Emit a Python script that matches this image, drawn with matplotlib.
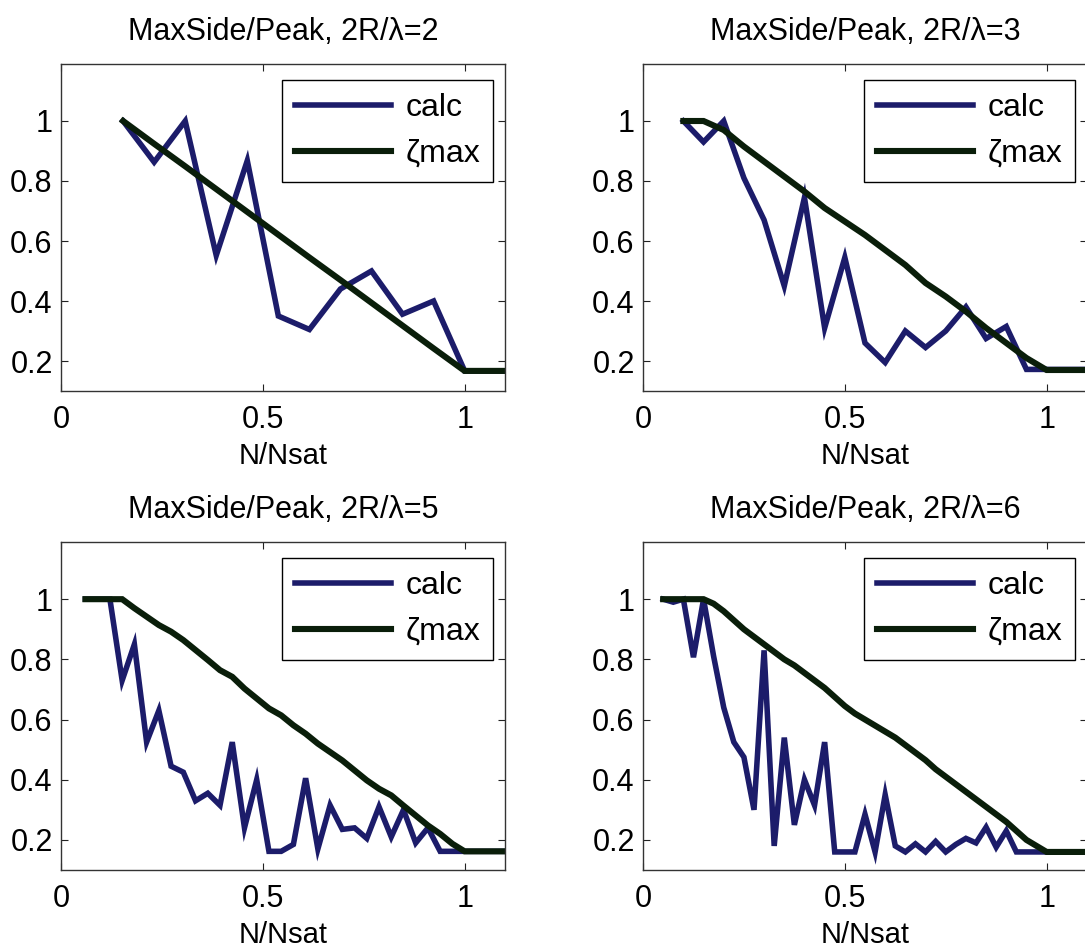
import numpy as np
import matplotlib
matplotlib.use('Agg')
import matplotlib.pyplot as plt

plt.rcParams['font.family'] = ['Liberation Sans', 'DejaVu Sans']

# ratio 2R/lambda for each panel, saturation count Nsat, and sample counts N
ratios = [2, 3, 5, 6]
n_sat = [13, 20, 33, 40]
n_first = [2, 2, 2, 2]

# values, one per N starting at N=2
calc_2 = [1.0, 0.863, 1.0, 0.552, 0.868, 0.35, 0.305, 0.44, 0.5, 0.356, 0.4, 0.167,
          0.167, 0.167]
zeta_2 = [1.0, 0.924, 0.849, 0.773, 0.697, 0.621, 0.545, 0.470, 0.394, 0.318, 0.242,
          0.167, 0.167, 0.167]

calc_3 = [1.0, 0.93, 1.0, 0.81, 0.67, 0.45, 0.745, 0.31, 0.545, 0.26, 0.195, 0.30,
          0.245, 0.30, 0.38, 0.275, 0.315, 0.172, 0.172, 0.172, 0.172]
zeta_3 = [1.0, 1.0, 0.97, 0.915, 0.865, 0.815, 0.765, 0.71, 0.665, 0.62, 0.57, 0.52,
          0.46, 0.415, 0.365, 0.31, 0.26, 0.21, 0.17, 0.17, 0.17]

calc_5 = [1.0, 1.0, 1.0, 0.73, 0.85, 0.525, 0.63, 0.445, 0.425, 0.33, 0.355, 0.315,
          0.525, 0.24, 0.40, 0.162, 0.162, 0.185, 0.405, 0.17, 0.315, 0.235, 0.24,
          0.205, 0.31, 0.21, 0.30, 0.19, 0.24, 0.162, 0.162, 0.162,
          0.162, 0.162, 0.162, 0.162]
zeta_5 = [1.0, 1.0, 1.0, 1.0, 0.97, 0.942, 0.914, 0.892, 0.864, 0.831, 0.798, 0.764,
          0.742, 0.703, 0.67, 0.637, 0.614, 0.581, 0.553, 0.52, 0.492, 0.464, 0.431,
          0.398, 0.37, 0.348, 0.314, 0.281, 0.248, 0.22, 0.187, 0.162,
          0.162, 0.162, 0.162, 0.162]

calc_6 = [1.0, 0.99, 1.0, 0.807, 1.0, 0.81, 0.64, 0.525, 0.475, 0.30, 0.83, 0.18,
          0.54, 0.25, 0.40, 0.315, 0.525, 0.16, 0.16, 0.16, 0.285, 0.16, 0.35, 0.18,
          0.16, 0.187, 0.16, 0.195, 0.16, 0.185, 0.205, 0.19, 0.242, 0.176, 0.23,
          0.16, 0.16, 0.16, 0.16,
          0.16, 0.16, 0.16, 0.16, 0.16]
zeta_6 = [1.0, 1.0, 1.0, 1.0, 1.0, 0.985, 0.96, 0.93, 0.90, 0.875, 0.85, 0.825, 0.80,
          0.78, 0.755, 0.73, 0.705, 0.675, 0.645, 0.62, 0.60, 0.58, 0.56, 0.54, 0.515,
          0.49, 0.465, 0.435, 0.41, 0.385, 0.36, 0.335, 0.31, 0.285, 0.26, 0.23, 0.20,
          0.18, 0.16,
          0.16, 0.16, 0.16, 0.16, 0.16]

calc_all = [calc_2, calc_3, calc_5, calc_6]
zeta_all = [zeta_2, zeta_3, zeta_5, zeta_6]

x_ticks = [0, 0.5, 1]
x_tick_labels = ['0', '0.5', '1']
y_ticks = [0.2, 0.4, 0.6, 0.8, 1.0]
y_tick_labels = ['0.2', '0.4', '0.6', '0.8', '1']

calc_color = '#1c1c6a'
zeta_color = '#0a1e0a'

W, H = 1085, 949
fig = plt.figure(figsize=(W / 100, H / 100), dpi=100)
fig.patch.set_facecolor('white')

# axes boxes in pixels: left, top, right, bottom
boxes = [(61, 64, 505, 391), (643, 64, 1087, 391),
         (61, 542, 505, 870), (643, 542, 1087, 870)]

for i in range(4):
    l, t, r, b = boxes[i]
    ax = fig.add_axes([l / W, 1 - b / H, (r - l) / W, (b - t) / H])
    n = np.arange(n_first[i], n_first[i] + len(calc_all[i]))
    x = n / n_sat[i]
    ax.plot(x, calc_all[i], color=calc_color, lw=4.0, label='calc',
            solid_joinstyle='miter')
    ax.plot(x, zeta_all[i], color=zeta_color, lw=4.4, label='ζmax',
            solid_joinstyle='miter')
    ax.set_xlim(0, 1.1)
    ax.set_ylim(0.1, 1.19)
    ax.set_xticks(x_ticks)
    ax.set_xticklabels(x_tick_labels)
    ax.set_yticks(y_ticks)
    ax.set_yticklabels(y_tick_labels)
    ax.tick_params(direction='in', length=5, width=0.8, top=True, right=True,
                   labelsize=22, pad=10, colors='#222222', labelcolor='black')
    ax.tick_params(axis='y', pad=6)
    for s in ax.spines.values():
        s.set_linewidth(1.0)
        s.set_color('#333333')
    ax.set_title('MaxSide/Peak, 2R/λ=%d' % ratios[i], fontsize=22, pad=17)
    ax.set_xlabel('N/Nsat', fontsize=21, labelpad=5)
    leg = ax.legend(loc='upper right', bbox_to_anchor=(1 - 12 / 444, 1 - 16 / 327),
                    borderaxespad=0, fontsize=23, handlelength=3.0,
                    handletextpad=0.45, labelspacing=0.5, borderpad=0.4,
                    fancybox=False, framealpha=1)
    leg.get_frame().set_edgecolor('black')
    leg.get_frame().set_linewidth(1.0)

fig.savefig('out.png', dpi=100, facecolor='white')
